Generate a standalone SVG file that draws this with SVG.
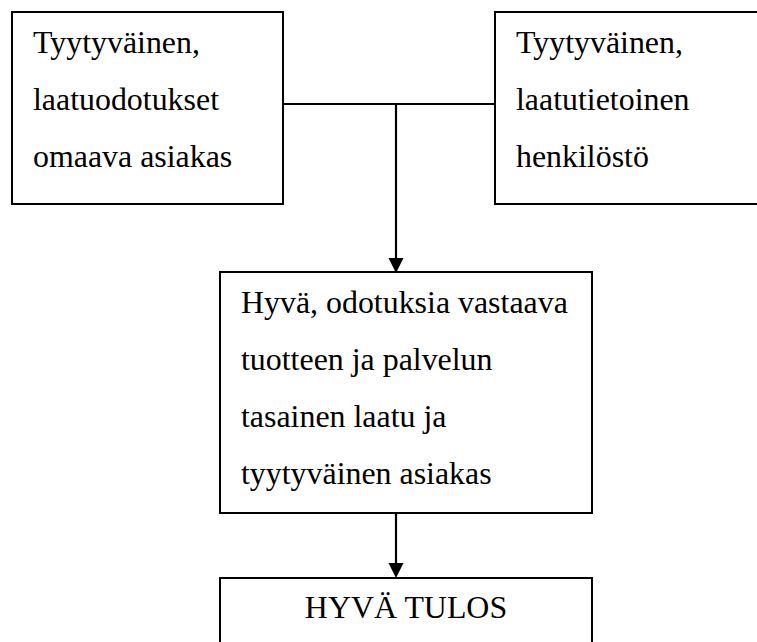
<svg xmlns="http://www.w3.org/2000/svg" width="757" height="642" viewBox="0 0 757 642">
<defs>
<style>
.box{fill:#fff;stroke:#000;stroke-width:2}
.t{font-family:"Liberation Serif","Times New Roman",serif;font-size:31.9px;fill:#000}
.c{fill:none;stroke:#000;stroke-width:2.2}
</style>
</defs>
<rect width="757" height="642" fill="#fff"/>
<g id="connectors">
<path class="c" d="M283,104 H495"/>
<path d="M396,104 V259" class="c"/>
<path d="M388.5,258 L403.5,258 L396,273 z" fill="#000"/>
<path d="M396,513 V564" class="c"/>
<path d="M388.5,563 L403.5,563 L396,578 z" fill="#000"/>
</g>
<g id="n1">
<rect class="box" x="12" y="12" width="271" height="192"/>
<text class="t" x="33" y="53">Tyytyväinen,</text>
<text class="t" x="33" y="110">laatuodotukset</text>
<text class="t" x="33" y="167">omaava asiakas</text>
</g>
<g id="n2">
<rect class="box" x="495" y="12" width="270" height="192"/>
<text class="t" x="516" y="53">Tyytyväinen,</text>
<text class="t" x="516" y="110">laatutietoinen</text>
<text class="t" x="516" y="167">henkilöstö</text>
</g>
<g id="n3">
<rect class="box" x="220" y="272" width="372" height="241"/>
<text class="t" x="241" y="313">Hyvä, odotuksia vastaava</text>
<text class="t" x="241" y="370">tuotteen ja palvelun</text>
<text class="t" x="241" y="427">tasainen laatu ja</text>
<text class="t" x="241" y="484">tyytyväinen asiakas</text>
</g>
<g id="n4">
<rect class="box" x="220" y="578" width="372" height="80"/>
<text class="t" x="406" y="618" text-anchor="middle">HYVÄ TULOS</text>
</g>
</svg>
